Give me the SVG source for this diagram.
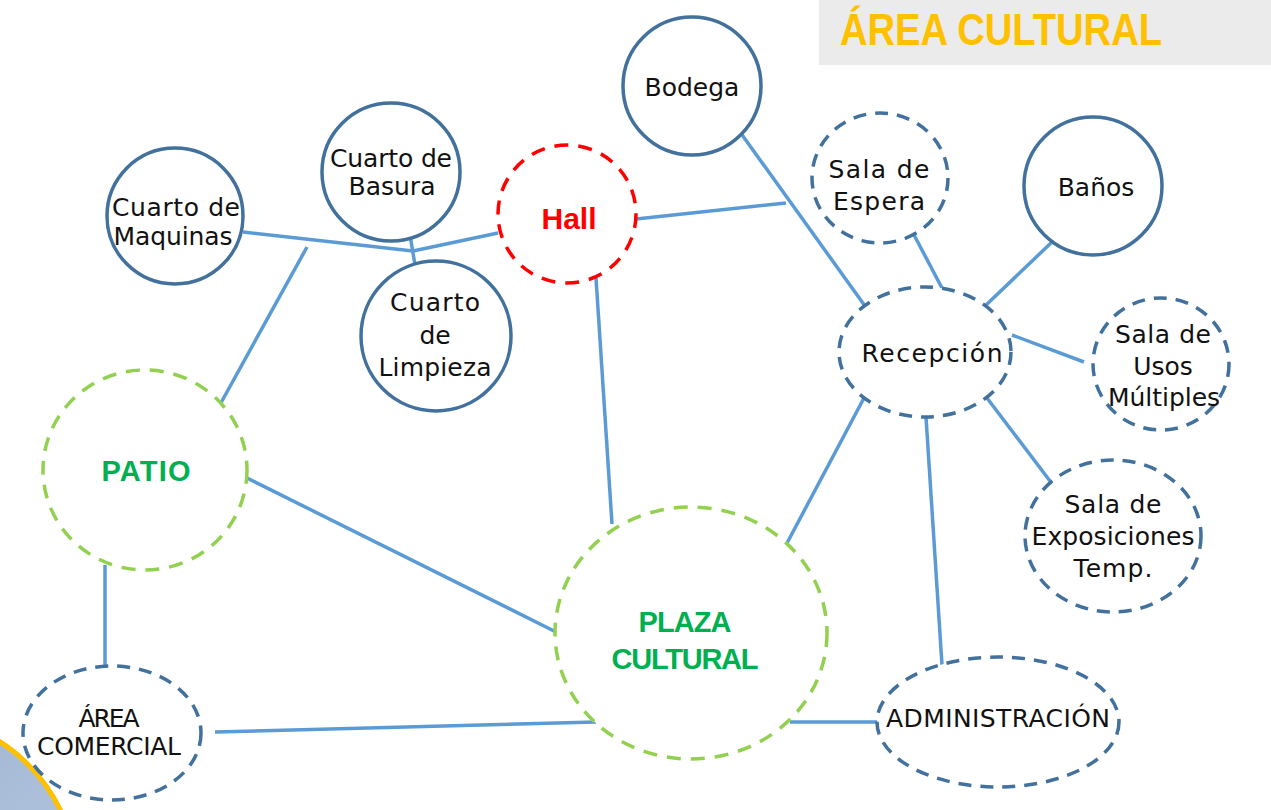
<svg xmlns="http://www.w3.org/2000/svg" width="1271" height="810" viewBox="0 0 1271 810">
<defs>
<linearGradient id="cg" x1="0" y1="0" x2="1" y2="1">
<stop offset="0" stop-color="#95ACCB"/>
<stop offset="1" stop-color="#BCCDE4"/>
</linearGradient>
<style>
.n{fill:#fff;stroke:#41719C;stroke-width:3.5}
.d{fill:#fff;stroke:#41719C;stroke-width:3.5;stroke-dasharray:13 9}
.g{fill:#fff;stroke:#92D050;stroke-width:3.5;stroke-dasharray:14 10}
.r{fill:#fff;stroke:#FF0000;stroke-width:3.5;stroke-dasharray:14 10}
.t{font-family:"DejaVu Sans","Liberation Sans",sans-serif;font-size:25px;fill:#111;text-anchor:middle}
.b{font-family:"Liberation Sans","DejaVu Sans",sans-serif;font-weight:bold;text-anchor:middle}
#connectors line{stroke:#5B9BD5;stroke-width:3.5;stroke-linecap:butt}
</style>
</defs>
<rect x="0" y="0" width="1271" height="810" fill="#fff"/>
<g id="title">
<rect x="819" y="0" width="452" height="65" fill="#EBEBEB"/>
<text x="840" y="45" font-family="Liberation Sans, DejaVu Sans, sans-serif" font-weight="bold" font-size="44" fill="#FFC000" textLength="322" lengthAdjust="spacingAndGlyphs">ÁREA CULTURAL</text>
</g>
<g id="corner">
<circle cx="-91" cy="883" r="168" fill="url(#cg)" stroke="#FFC000" stroke-width="5"/>
</g>
<g id="connectors">
<line x1="243" y1="232" x2="413" y2="251"/>
<line x1="413" y1="251" x2="498" y2="233"/>
<line x1="410" y1="235" x2="415" y2="265"/>
<line x1="307" y1="247" x2="217" y2="410"/>
<line x1="636" y1="219" x2="786" y2="203"/>
<line x1="740" y1="132" x2="865" y2="306"/>
<line x1="596" y1="278" x2="612" y2="524"/>
<line x1="247" y1="478" x2="556" y2="632"/>
<line x1="105" y1="565" x2="105" y2="670"/>
<line x1="215" y1="732" x2="596" y2="722"/>
<line x1="790" y1="722" x2="878" y2="722"/>
<line x1="864" y1="398" x2="786" y2="545"/>
<line x1="926" y1="417" x2="942" y2="665"/>
<line x1="913" y1="233" x2="942" y2="288"/>
<line x1="1052" y1="242" x2="985" y2="306"/>
<line x1="1012" y1="335" x2="1084" y2="362"/>
<line x1="987" y1="398" x2="1050" y2="481"/>
</g>
<g id="bodega">
<circle class="n" cx="692" cy="86" r="69"/>
<text class="t" x="692" y="96">Bodega</text>
</g>
<g id="basura">
<circle class="n" cx="391" cy="172" r="69"/>
<text class="t" x="391" y="167" font-size="24" textLength="122">Cuarto de</text>
<text class="t" x="392" y="195" font-size="23">Basura</text>
</g>
<g id="maquinas">
<circle class="n" cx="175" cy="216" r="68"/>
<text class="t" x="176" y="216" textLength="128">Cuarto de</text>
<text class="t" x="173" y="245" textLength="119">Maquinas</text>
</g>
<g id="hall">
<circle class="r" cx="567" cy="214" r="69"/>
<text class="b" x="569" y="229" font-size="30" fill="#FF0000">Hall</text>
</g>
<g id="limpieza">
<circle class="n" cx="436" cy="336" r="75"/>
<text class="t" x="435" y="311" font-size="27" textLength="90">Cuarto</text>
<text class="t" x="435" y="344" font-size="27">de</text>
<text class="t" x="435" y="376" font-size="27" textLength="113">Limpieza</text>
</g>
<g id="espera">
<ellipse class="d" cx="880" cy="178" rx="68" ry="65"/>
<text class="t" x="879" y="178" font-size="27" textLength="101">Sala de</text>
<text class="t" x="879" y="210" font-size="27" textLength="92">Espera</text>
</g>
<g id="banos">
<circle class="n" cx="1093" cy="186" r="69"/>
<text class="t" x="1096" y="196">Baños</text>
</g>
<g id="recepcion">
<ellipse class="d" cx="925" cy="352" rx="86" ry="65"/>
<text class="t" x="932" y="362" font-size="27.5" textLength="141">Recepción</text>
</g>
<g id="usos">
<ellipse class="d" cx="1161" cy="364" rx="68" ry="66"/>
<text class="t" x="1163" y="343" font-size="26.5" textLength="96">Sala de</text>
<text class="t" x="1163" y="375" font-size="26.5">Usos</text>
<text class="t" x="1164" y="406" font-size="26.5" textLength="112">Múltiples</text>
</g>
<g id="exposiciones">
<ellipse class="d" cx="1113" cy="536" rx="88" ry="76"/>
<text class="t" x="1113" y="513" font-size="26.5" textLength="97">Sala de</text>
<text class="t" x="1113" y="545" font-size="26" textLength="163">Exposiciones</text>
<text class="t" x="1113" y="577" font-size="26.5" textLength="79">Temp.</text>
</g>
<g id="patio">
<ellipse class="g" cx="145" cy="470" rx="102" ry="100"/>
<text class="b" x="146" y="481" font-size="29" fill="#00B050" textLength="89">PATIO</text>
</g>
<g id="plaza">
<ellipse class="g" cx="691" cy="633" rx="136" ry="126"/>
<text class="b" x="685" y="632" font-size="29" fill="#00B050" textLength="93">PLAZA</text>
<text class="b" x="685" y="669" font-size="29" fill="#00B050" textLength="147">CULTURAL</text>
</g>
<g id="comercial">
<ellipse class="d" cx="112" cy="733" rx="89" ry="67"/>
<text class="t" x="109" y="727" font-size="21" textLength="61">ÁREA</text>
<text class="t" x="109" y="755" font-size="21" textLength="144">COMERCIAL</text>
</g>
<g id="admin">
<ellipse class="d" cx="998" cy="722" rx="121" ry="65"/>
<text class="t" x="998" y="727" font-size="22" textLength="224">ADMINISTRACIÓN</text>
</g>
</svg>
